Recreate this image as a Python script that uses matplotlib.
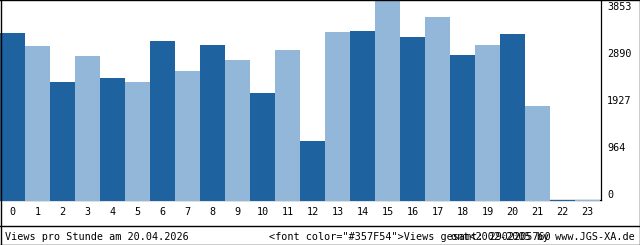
import numpy as np
import matplotlib
matplotlib.use("Agg")
import matplotlib.pyplot as plt
from matplotlib.lines import Line2D

# Daten: Views pro Stunde
hours = [str(h) for h in range(24)]
views = [3220, 2971, 2281, 2780, 2358, 2281, 3067, 2492, 2990, 2703, 2070, 2895,
         1150, 3240, 3259, 3853, 3144, 3527, 2799, 2990, 3201, 1821, 18, 18]
ytick_labels = ["0", "964", "1927", "2890", "3853"]
title_left = "Views pro Stunde am 20.04.2026"
footer_a = '<font color="#357F54">Views gesamt: 2902205760'
footer_b = "ont<2002-2005 by www.JGS-XA.de"

dark = "#1f62a0"
light = "#93b7d9"
W, H = 640, 245
mono = "DejaVu Sans Mono"

fig = plt.figure(figsize=(W / 100, H / 100), dpi=100)
fig.patch.set_facecolor("white")

# Plotbereich: x 0..600 px, y 0..201 px (von oben)
ax = fig.add_axes([0, (H - 201) / H, 600 / W, 201 / H])
ax.set_xlim(-0.5, 23.5)
ax.set_ylim(0, max(views))
ax.axis("off")

colors = [dark if i % 2 == 0 else light for i in range(len(views))]
ax.bar(np.arange(len(views)), views, width=1.0, color=colors, zorder=3)

# Achsenlinien (unten und rechts)
px = max(views) / 201
ax.plot([-0.5, 23.54], [1.5 * px, 1.5 * px], color="black", lw=0.9, zorder=2, clip_on=False)
ax.plot([23.54, 23.54], [1.5 * px, max(views) + 2 * px], color="black", lw=0.9,
        zorder=2, clip_on=False)

# x-Beschriftung
for i, lab in enumerate(hours):
    fig.text((i * 25 + 12.5) / W, 1 - 212 / H, lab, ha="center", va="center",
             family=mono, fontsize=7.3)

# y-Beschriftung rechts
for i, lab in enumerate(ytick_labels):
    fig.text(607 / W, 1 - (195 - 47 * i) / H, lab, ha="left", va="center",
             family=mono, fontsize=7.3)

# Fußzeile (Texte überlagern sich wie im Original)
fig.text(5 / W, 1 - 237 / H, title_left, ha="left", va="center", family=mono, fontsize=7.3)
fig.text(269 / W, 1 - 237 / H, footer_a, ha="left", va="center", family=mono, fontsize=7.3)
fig.text(635 / W, 1 - 237 / H, footer_b, ha="right", va="center", family=mono, fontsize=7.3)

# Rahmen und Trennlinie
def hline(y, x0=0, x1=W):
    fig.add_artist(Line2D([x0 / W, x1 / W], [1 - y / H, 1 - y / H], color="black", lw=1.0))

def vline(x, y0=0, y1=H):
    fig.add_artist(Line2D([x / W, x / W], [1 - y0 / H, 1 - y1 / H], color="black", lw=1.0))

hline(0.5)
hline(H - 0.5)
hline(225.5)
vline(0.5)
vline(W - 0.5)

fig.savefig("out.png", dpi=100)
